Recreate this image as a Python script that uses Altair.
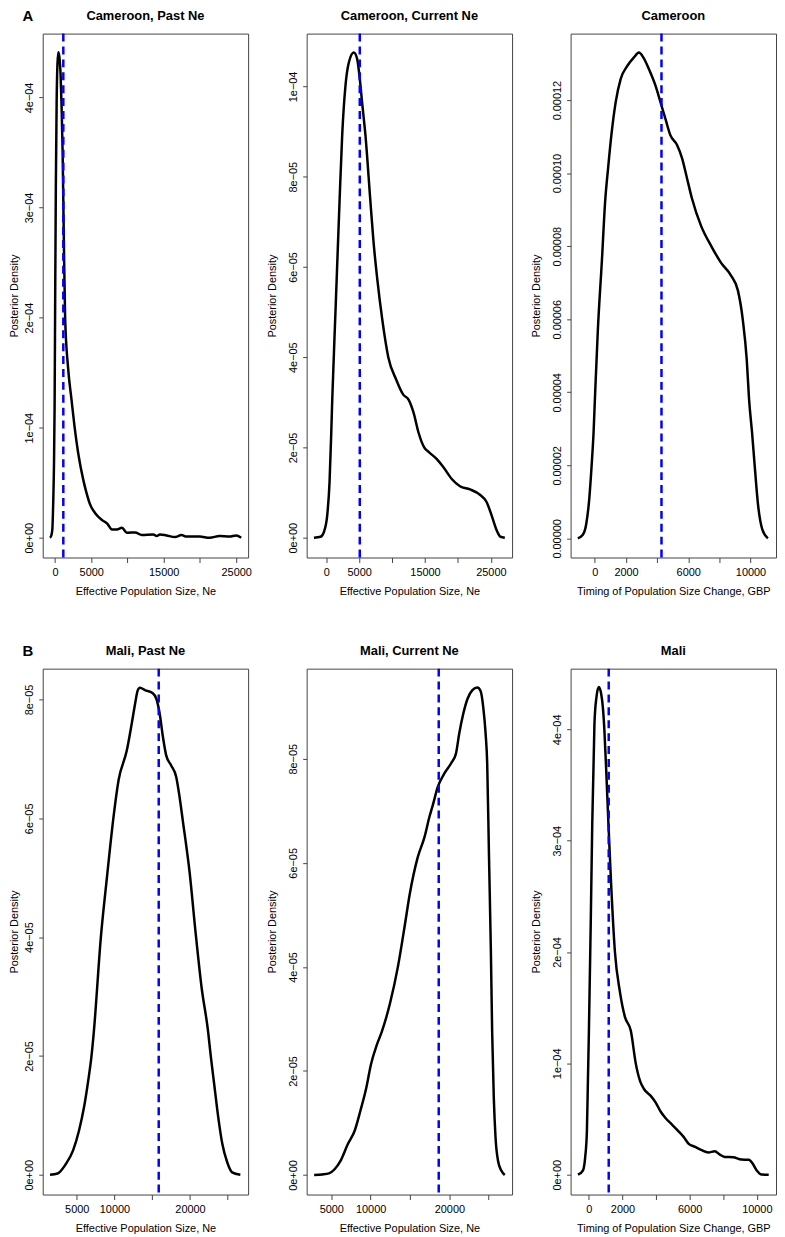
import altair as alt
import pandas as pd

FONT = "Liberation Sans"
W = 207
H_TOP = 528
H_BOT = 530

# ---------------- data ----------------
# Cameroon, Past Ne  (density in units of 1e-4)
cam_past_x = [-685, -500, -360, -250, -140, -50, 30, 120, 230, 340, 465, 600, 780, 920, 1055, 1150,
              1270, 1400, 1800, 2290, 2700, 3200, 3890, 4340, 4800, 5580, 6500, 7180, 7870, 8550,
              9240, 9920, 11060, 11980, 13570, 14030, 14490, 15400, 16540, 17460, 18140, 19970,
              21340, 22710, 24080, 25000, 25690]
cam_past_y = [0, 0.02, 0.08, 0.3, 0.65, 1.2, 2.2, 3.2, 3.96, 4.3, 4.41, 4.37, 4.2, 3.9, 3.5, 3.06,
              2.5, 2.0, 1.55, 1.25, 1.01, 0.77, 0.53, 0.41, 0.31, 0.22, 0.16, 0.13, 0.075, 0.075,
              0.09, 0.045, 0.048, 0.024, 0.03, 0.015, 0.03, 0.02, 0.006, 0.024, 0.01, 0.01,
              0.0, 0.015, 0.01, 0.02, 0]
cam_past_vline = 1150

# Cameroon, Current Ne (units of 1e-5)
cam_cur_x = [-1870, -860, -350, 150, 500, 760, 910, 1450, 2020, 2420, 2920, 3430, 4180, 4690, 5090,
             5440, 5950, 6700, 7170, 7770, 8520, 9420, 10630, 11690, 12500, 13260, 14010, 14870,
             15630, 16790, 17800, 19060, 20310, 21830, 23340, 24350, 25100, 25860, 26460, 27120]
cam_cur_y = [0, 0.02, 0.13, 0.5, 1.23, 2.33, 3.06, 5.2, 7.46, 8.92, 10.02, 10.53, 10.75, 10.61, 10.17,
             9.65, 8.92, 7.46, 6.57, 5.7, 4.82, 4.0, 3.5, 3.17, 3.06, 2.77, 2.33, 2.0,
             1.89, 1.74, 1.56, 1.30, 1.14, 1.07, 0.95, 0.79, 0.5, 0.17, 0.02, 0]
cam_cur_vline = 5090

# Cameroon, timing (units of 1e-5)
cam_t_x = [-1100, -790, -570, -360, -210, -85, 0, 190, 450, 660, 850, 1060, 1340, 1660, 2090, 2510,
           2830, 3110, 3470, 3890, 4210, 4530, 4850, 5280, 5600, 5920, 6230, 6830, 7470, 8100, 8740,
           9190, 9510, 9760, 9910, 10100, 10270, 10490, 10770, 11120]
cam_t_y = [0, 0.09, 0.36, 1.09, 1.99, 2.9, 3.8, 5.7, 7.6, 9.23, 10.14, 11.04, 11.95, 12.58, 12.94, 13.17,
           13.3, 13.17, 12.85, 12.4, 11.95, 11.49, 11.04, 10.77, 10.41, 9.86, 9.32, 8.55, 8.01, 7.55, 7.2,
           6.79, 5.97, 4.89, 3.8, 2.9, 1.99, 0.9, 0.23, 0]
cam_t_vline = 4280

# Mali, Past Ne (units of 1e-5)
mali_past_x = [1470, 2470, 3560, 4520, 5300, 5960, 6520, 6960, 7270, 8200, 9000, 9880, 10540, 11630,
               12280, 12720, 13070, 13370, 14030, 15030, 15550, 15990, 16420, 16850, 17510, 18170,
               18610, 19040, 19960, 20740, 21530, 22400, 22750, 23190, 23710, 24280, 24930, 25580, 26670]
mali_past_y = [0, 0.02, 0.18, 0.41, 0.74, 1.13, 1.58, 2.0, 2.41, 4.0, 5.0, 6.03, 6.64, 7.14,
               7.59, 7.92, 8.15, 8.2, 8.16, 8.11, 8.01, 7.76, 7.37, 7.06, 6.89, 6.7,
               6.37, 5.97, 5.08, 4.08, 3.16, 2.41, 2.0, 1.54, 1.0, 0.52, 0.21, 0.04, 0]
mali_past_vline = 15860

# Mali, Current Ne (units of 1e-5)
mali_cur_x = [2820, 3870, 4700, 5420, 6170, 7090, 7970, 8690, 9440, 10030, 10780, 11410, 12460, 13460,
              14340, 14970, 15970, 16850, 17480, 17900, 18530, 19370, 20210, 20840, 21250, 21760,
              22300, 22930, 23560, 23980, 24310, 24610, 24810, 25030, 25280, 25440, 25650, 25870,
              26190, 26620, 27040]
mali_cur_y = [0, 0.01, 0.03, 0.11, 0.27, 0.59, 0.85, 1.23, 1.67, 2.12, 2.5, 2.75, 3.3, 4.0,
              4.8, 5.4, 6.1, 6.5, 6.89, 7.11, 7.46, 7.72, 7.91, 8.1, 8.48, 8.86,
              9.15, 9.32, 9.37, 9.3, 8.99, 8.48, 7.91, 6.19, 4.28, 2.75, 1.48, 0.72,
              0.27, 0.08, 0]
mali_cur_vline = 18650

# Mali, timing (units of 1e-4)
mali_t_x = [-650, -350, -220, -120, -60, 0, 110, 200, 330, 450, 590, 730, 830, 920, 1040, 1160, 1320,
            1550, 1850, 2140, 2500, 2790, 3050, 3280, 3670, 3970, 4260, 4560, 4950, 5340, 5640, 5930,
            6330, 6720, 7110, 7500, 7800, 8090, 8590, 9080, 9530, 9760, 10000, 10260, 10710]
mali_t_y = [0, 0.04, 0.16, 0.39, 0.84, 1.29, 2.27, 3.16, 4.05, 4.29, 4.38, 4.32, 4.2, 4.0, 3.6, 3.16, 2.62,
            2.0, 1.64, 1.42, 1.29, 1.0, 0.84, 0.77, 0.71, 0.65, 0.57, 0.51, 0.45, 0.39, 0.34, 0.28,
            0.25, 0.22, 0.2, 0.21, 0.18, 0.16, 0.157, 0.136, 0.134, 0.098, 0.038, 0.003, 0]
mali_t_vline = 1180

# tick values / labels
ne_ticks_a = [0, 5000, 10000, 15000, 20000, 25000]
ne_labels_a = ["0", "5000", "", "15000", "", "25000"]
ne_ticks_b = [5000, 10000, 15000, 20000, 25000]
ne_labels_b = ["5000", "10000", "", "20000", ""]
t_ticks = [0, 2000, 4000, 6000, 8000, 10000]
t_labels = ["0", "2000", "", "6000", "", "10000"]

y_ticks_4 = [0, 1e-4, 2e-4, 3e-4, 4e-4]
y_labels_4 = ["0e+00", "1e\u221204", "2e\u221204", "3e\u221204", "4e\u221204"]
y_ticks_5a = [0, 2e-5, 4e-5, 6e-5, 8e-5, 1e-4]
y_labels_5a = ["0e+00", "2e\u221205", "4e\u221205", "6e\u221205", "8e\u221205", "1e\u221204"]
y_ticks_dec = [0, 2e-5, 4e-5, 6e-5, 8e-5, 1e-4, 1.2e-4]
y_labels_dec = ["0.00000", "0.00002", "0.00004", "0.00006", "0.00008", "0.00010", "0.00012"]
y_ticks_5b = [0, 2e-5, 4e-5, 6e-5, 8e-5]
y_labels_5b = ["0e+00", "2e\u221205", "4e\u221205", "6e\u221205", "8e\u221205"]

XT_NE = "Effective Population Size, Ne"
XT_T = "Timing of Population Size Change, GBP"
YT = "Posterior Density"


def label_expr(values, labels):
    parts = []
    for v, l in zip(values, labels):
        tol = abs(v) * 1e-6 + 1e-12
        parts.append(f"abs(datum.value - ({v!r})) < {tol!r} ? '{l}' : ")
    return "".join(parts) + "''"


def panel(title, xs, ys, unit, vline, xdom, ydom, xticks, xlabels, yticks, ylabels,
          xtitle, height, letter=None, ytitle_x=-40):
    df = pd.DataFrame({"x": xs, "y": [v * unit for v in ys]})
    xaxis = alt.Axis(values=xticks, labelExpr=label_expr(xticks, xlabels), title=xtitle,
                     grid=False, domain=False, tickSize=5, labelPadding=4,
                     labelFlush=False, labelOverlap=False, labelAlign="center",
                     labelBaseline="top", titleX=W / 2, titleY=28, titleAlign="center",
                     titleBaseline="top", titleAngle=0)
    yaxis = alt.Axis(values=yticks, labelExpr=label_expr(yticks, ylabels), title=YT,
                     grid=False, domain=False, tickSize=4, labelPadding=6,
                     labelAngle=270, labelAlign="center", labelBaseline="alphabetic",
                     labelFlush=False, labelOverlap=False,
                     titleX=ytitle_x, titleY=height / 2, titleAlign="center",
                     titleBaseline="top", titleAngle=270)
    line = alt.Chart(df).mark_line(color="black", strokeWidth=2.5, interpolate="monotone").encode(
        x=alt.X("x:Q", scale=alt.Scale(domain=xdom, nice=False, zero=False), axis=xaxis),
        y=alt.Y("y:Q", scale=alt.Scale(domain=ydom, nice=False, zero=False), axis=yaxis),
    )
    rule = alt.Chart(pd.DataFrame({"x": [vline]})).mark_rule(
        color="#0000FF", strokeWidth=2.5, strokeDash=[8, 5]).encode(x="x:Q")
    ttl = alt.Chart(pd.DataFrame({"t": [title]})).mark_text(
        font=FONT, fontSize=13, fontWeight="bold", align="center", baseline="top", color="black"
    ).encode(x=alt.value(W / 2), y=alt.value(-24.2), text="t:N")
    layers = [line, rule, ttl]
    if letter:
        lt = alt.Chart(pd.DataFrame({"t": [letter]})).mark_text(
            font=FONT, fontSize=15, fontWeight="bold", align="center", baseline="top", color="black"
        ).encode(x=alt.value(-15), y=alt.value(-24.8), text="t:N")
        layers.append(lt)
    return alt.layer(*layers).properties(width=W, height=height)


p1 = panel("Cameroon, Past Ne", cam_past_x, cam_past_y, 1e-4, cam_past_vline,
           [-1690, 26650], [-1.8e-5, 4.58e-4], ne_ticks_a, ne_labels_a, y_ticks_4, y_labels_4,
           XT_NE, H_TOP, letter="A", ytitle_x=-34)
p2 = panel("Cameroon, Current Ne", cam_cur_x, cam_cur_y, 1e-5, cam_cur_vline,
           [-2975, 28220], [-4.4e-6, 1.117e-4], ne_ticks_a, ne_labels_a, y_ticks_5a, y_labels_5a,
           XT_NE, H_TOP)
p3 = panel("Cameroon", cam_t_x, cam_t_y, 1e-5, cam_t_vline,
           [-1560, 11640], [-5.24e-6, 1.382e-4], t_ticks, t_labels, y_ticks_dec, y_labels_dec,
           XT_T, H_TOP)
p4 = panel("Mali, Past Ne", mali_past_x, mali_past_y, 1e-5, mali_past_vline,
           [500, 27700], [-3.34e-6, 8.52e-5], ne_ticks_b, ne_labels_b, y_ticks_5b, y_labels_5b,
           XT_NE, H_BOT, letter="B", ytitle_x=-34)
p5 = panel("Mali, Current Ne", mali_cur_x, mali_cur_y, 1e-5, mali_cur_vline,
           [1870, 27970], [-3.76e-6, 9.733e-5], ne_ticks_b, ne_labels_b, y_ticks_5b, y_labels_5b,
           XT_NE, H_BOT)
p6 = panel("Mali", mali_t_x, mali_t_y, 1e-4, mali_t_vline,
           [-1090, 11145], [-1.78e-5, 4.545e-4], t_ticks, t_labels, y_ticks_4, y_labels_4,
           XT_T, H_BOT)

chart = alt.concat(p1, p2, p3, p4, p5, p6, columns=3, spacing={"row": 112, "column": 59},
                   bounds="flush").properties(
    padding={"top": -5, "left": 0, "right": 0, "bottom": 0}, background="white"
).configure_view(
    stroke="#444444", strokeWidth=1
).configure_axis(
    labelFont=FONT, titleFont=FONT, labelFontSize=11, titleFontSize=11,
    titleFontWeight="normal", tickColor="#444444", labelColor="black", titleColor="black",
    tickWidth=1
)

chart.save("out.html", embed_options={"renderer": "svg", "actions": False})
